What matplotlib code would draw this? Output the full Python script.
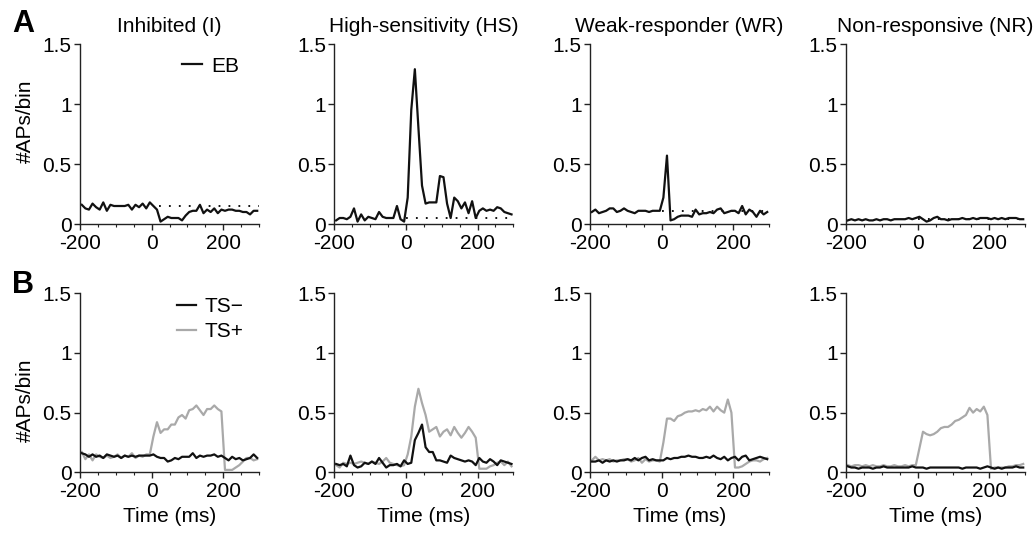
import numpy as np
import matplotlib
matplotlib.use("Agg")
import matplotlib.pyplot as plt
from matplotlib.ticker import MultipleLocator, FixedLocator

plt.rcParams['font.family'] = ['Liberation Sans', 'DejaVu Sans']

# ---------------- data ----------------
time_ms = np.arange(-195, 300, 10)

titles = ["Inhibited (I)", "High-sensitivity (HS)", "Weak-responder (WR)", "Non-responsive (NR)"]

# Row A: EB responses
eb_I = [0.16, 0.13, 0.12, 0.17, 0.14, 0.12, 0.18, 0.11, 0.16, 0.15,
        0.15, 0.15, 0.15, 0.16, 0.12, 0.16, 0.14, 0.17, 0.13, 0.18,
        0.15, 0.12, 0.02, 0.04, 0.06, 0.05, 0.05, 0.05, 0.03, 0.07,
        0.10, 0.11, 0.11, 0.16, 0.09, 0.12, 0.10, 0.13, 0.09, 0.12,
        0.11, 0.12, 0.12, 0.11, 0.11, 0.10, 0.10, 0.08, 0.11, 0.11]
eb_HS = [0.03, 0.05, 0.05, 0.04, 0.06, 0.13, 0.02, 0.08, 0.03, 0.06,
         0.05, 0.04, 0.10, 0.06, 0.05, 0.05, 0.05, 0.15, 0.04, 0.02,
         0.22, 0.95, 1.29, 0.80, 0.32, 0.17, 0.18, 0.18, 0.18, 0.40,
         0.39, 0.17, 0.05, 0.22, 0.19, 0.13, 0.18, 0.09, 0.19, 0.05,
         0.11, 0.13, 0.11, 0.12, 0.11, 0.14, 0.13, 0.10, 0.09, 0.08]
eb_WR = [0.10, 0.12, 0.09, 0.10, 0.11, 0.13, 0.13, 0.10, 0.11, 0.13,
         0.11, 0.10, 0.09, 0.11, 0.11, 0.11, 0.10, 0.11, 0.11, 0.11,
         0.22, 0.57, 0.03, 0.04, 0.06, 0.07, 0.07, 0.07, 0.06, 0.12,
         0.08, 0.09, 0.09, 0.10, 0.09, 0.12, 0.13, 0.09, 0.10, 0.11,
         0.11, 0.09, 0.15, 0.08, 0.12, 0.10, 0.06, 0.11, 0.08, 0.10]
eb_NR = [0.03, 0.04, 0.03, 0.04, 0.03, 0.04, 0.03, 0.03, 0.04, 0.03,
         0.04, 0.04, 0.03, 0.04, 0.04, 0.04, 0.04, 0.05, 0.04, 0.05,
         0.06, 0.04, 0.02, 0.03, 0.05, 0.06, 0.04, 0.04, 0.03, 0.04,
         0.04, 0.04, 0.05, 0.04, 0.04, 0.05, 0.04, 0.05, 0.05, 0.05,
         0.04, 0.05, 0.04, 0.05, 0.04, 0.05, 0.05, 0.05, 0.04, 0.04]
eb_baseline = [0.15, 0.05, 0.11, 0.04]
baseline_start = [20, 0, 0, 0]

# Row B: tone stimulus, TS- (black) and TS+ (grey)
tsm_I = [0.16, 0.15, 0.13, 0.15, 0.13, 0.14, 0.12, 0.15, 0.14, 0.13,
         0.14, 0.12, 0.14, 0.13, 0.14, 0.13, 0.14, 0.14, 0.14, 0.14,
         0.15, 0.13, 0.12, 0.12, 0.09, 0.10, 0.12, 0.11, 0.13, 0.13,
         0.13, 0.16, 0.12, 0.14, 0.13, 0.14, 0.14, 0.15, 0.13, 0.14,
         0.12, 0.10, 0.13, 0.11, 0.12, 0.10, 0.11, 0.12, 0.15, 0.12]
tsp_I = [0.17, 0.11, 0.15, 0.10, 0.15, 0.13, 0.12, 0.14, 0.12, 0.13,
         0.15, 0.12, 0.14, 0.13, 0.16, 0.12, 0.14, 0.13, 0.15, 0.15,
         0.30, 0.42, 0.33, 0.36, 0.36, 0.40, 0.40, 0.46, 0.48, 0.45,
         0.52, 0.53, 0.56, 0.52, 0.48, 0.53, 0.53, 0.56, 0.53, 0.51,
         0.02, 0.02, 0.02, 0.04, 0.06, 0.09, 0.12, 0.12, 0.10, 0.11]
tsm_HS = [0.07, 0.06, 0.07, 0.05, 0.14, 0.06, 0.04, 0.05, 0.08, 0.07,
          0.09, 0.07, 0.12, 0.08, 0.04, 0.06, 0.06, 0.07, 0.05, 0.10,
          0.07, 0.08, 0.27, 0.33, 0.40, 0.21, 0.17, 0.17, 0.10, 0.10,
          0.09, 0.08, 0.14, 0.12, 0.11, 0.10, 0.09, 0.10, 0.09, 0.06,
          0.12, 0.09, 0.08, 0.11, 0.09, 0.06, 0.10, 0.09, 0.08, 0.07]
tsp_HS = [0.06, 0.04, 0.08, 0.07, 0.08, 0.07, 0.08, 0.09, 0.08, 0.07,
          0.09, 0.08, 0.07, 0.09, 0.12, 0.08, 0.07, 0.06, 0.05, 0.06,
          0.15, 0.30, 0.55, 0.70, 0.58, 0.48, 0.34, 0.36, 0.38, 0.30,
          0.34, 0.36, 0.31, 0.38, 0.33, 0.29, 0.33, 0.38, 0.34, 0.29,
          0.03, 0.03, 0.03, 0.05, 0.06, 0.08, 0.09, 0.06, 0.09, 0.05]
tsm_WR = [0.09, 0.09, 0.10, 0.08, 0.10, 0.09, 0.10, 0.09, 0.10, 0.10,
          0.11, 0.10, 0.12, 0.10, 0.12, 0.13, 0.10, 0.11, 0.10, 0.10,
          0.10, 0.12, 0.11, 0.12, 0.12, 0.13, 0.13, 0.14, 0.13, 0.13,
          0.12, 0.12, 0.13, 0.12, 0.14, 0.12, 0.11, 0.13, 0.10, 0.12,
          0.13, 0.10, 0.13, 0.14, 0.10, 0.11, 0.12, 0.13, 0.12, 0.11]
tsp_WR = [0.10, 0.13, 0.10, 0.11, 0.10, 0.11, 0.09, 0.10, 0.10, 0.11,
          0.11, 0.09, 0.10, 0.12, 0.08, 0.11, 0.09, 0.10, 0.10, 0.09,
          0.25, 0.45, 0.45, 0.43, 0.47, 0.48, 0.50, 0.51, 0.51, 0.52,
          0.51, 0.53, 0.52, 0.55, 0.51, 0.55, 0.52, 0.50, 0.61, 0.50,
          0.04, 0.04, 0.05, 0.07, 0.09, 0.10, 0.10, 0.09, 0.11, 0.12]
tsm_NR = [0.05, 0.04, 0.04, 0.03, 0.04, 0.04, 0.04, 0.03, 0.04, 0.04,
          0.05, 0.04, 0.04, 0.04, 0.04, 0.04, 0.04, 0.04, 0.05, 0.04,
          0.04, 0.04, 0.03, 0.04, 0.04, 0.04, 0.04, 0.04, 0.04, 0.04,
          0.04, 0.04, 0.03, 0.04, 0.04, 0.04, 0.04, 0.03, 0.04, 0.05,
          0.04, 0.03, 0.04, 0.03, 0.04, 0.04, 0.04, 0.05, 0.04, 0.04]
tsp_NR = [0.06, 0.05, 0.06, 0.06, 0.05, 0.06, 0.05, 0.06, 0.05, 0.05,
          0.06, 0.05, 0.05, 0.06, 0.05, 0.05, 0.06, 0.05, 0.06, 0.06,
          0.20, 0.34, 0.32, 0.31, 0.32, 0.34, 0.37, 0.38, 0.38, 0.40,
          0.43, 0.44, 0.46, 0.48, 0.54, 0.50, 0.53, 0.51, 0.55, 0.48,
          0.03, 0.04, 0.04, 0.04, 0.04, 0.05, 0.05, 0.06, 0.06, 0.07]

eb_rows = [eb_I, eb_HS, eb_WR, eb_NR]
tsm_rows = [tsm_I, tsm_HS, tsm_WR, tsm_NR]
tsp_rows = [tsp_I, tsp_HS, tsp_WR, tsp_NR]

x_ticks = [-200, 0, 200]
x_ticklabels = ["-200", "0", "200"]
y_ticks = [0, 0.5, 1, 1.5]
y_ticklabels = ["0", "0.5", "1", "1.5"]

# ---------------- layout ----------------
W, H = 1036, 534
fig = plt.figure(figsize=(W / 100, H / 100), dpi=100)

lefts_px = [80, 334.3, 590, 846]
width_px = 179
top_row = (224, 180)     # (bottom px from top, height px)
bot_row = (472.3, 179)

FS = 15
GREY = "#a9a9a9"
AXC = "#222222"


def style_axis(ax, show_xlabel):
    ax.set_xlim(-200, 300)
    ax.set_ylim(0, 1.5)
    for s in ["top", "right"]:
        ax.spines[s].set_visible(False)
    for s in ["left", "bottom"]:
        ax.spines[s].set_color(AXC)
        ax.spines[s].set_linewidth(1.0)
    ax.xaxis.set_major_locator(FixedLocator(x_ticks))
    ax.set_xticklabels(x_ticklabels)
    ax.xaxis.set_minor_locator(MultipleLocator(50))
    ax.yaxis.set_major_locator(FixedLocator(y_ticks))
    ax.set_yticklabels(y_ticklabels)
    ax.tick_params(axis="both", which="major", direction="out", length=4.5,
                   width=1.0, color=AXC, labelsize=FS, pad=1.5)
    ax.tick_params(axis="x", which="major", pad=2.5)
    ax.tick_params(axis="x", which="minor", direction="out", length=2.5,
                   width=0.8, color=AXC)
    ax.tick_params(axis="y", which="minor", length=0)
    if show_xlabel:
        ax.set_xlabel("Time (ms)", fontsize=FS, labelpad=4)


axes_top, axes_bot = [], []
for i in range(4):
    l = lefts_px[i] / W
    w = width_px / W
    ax = fig.add_axes([l, (H - top_row[0]) / H, w, top_row[1] / H])
    style_axis(ax, False)
    ax.set_title(titles[i], fontsize=FS, pad=9)
    ax.plot([baseline_start[i], 300], [eb_baseline[i], eb_baseline[i]],
            color="black", lw=1.3, linestyle=(0, (1, 4.5)))
    ax.plot(time_ms, eb_rows[i], color="#111111", lw=1.6, label="EB")
    axes_top.append(ax)

    axb = fig.add_axes([l, (H - bot_row[0]) / H, w, bot_row[1] / H])
    style_axis(axb, True)
    hp, = axb.plot(time_ms, tsp_rows[i], color=GREY, lw=1.6, label="TS+")
    hm, = axb.plot(time_ms, tsm_rows[i], color="#111111", lw=1.6, label="TS\u2212")
    axes_bot.append((axb, hm, hp))

# y labels
axes_top[0].set_ylabel("#APs/bin", fontsize=FS)
axes_top[0].yaxis.set_label_coords(-0.25, 0.57)
axes_bot[0][0].set_ylabel("#APs/bin", fontsize=FS)
axes_bot[0][0].yaxis.set_label_coords(-0.25, 0.40)

# legends
axes_top[0].legend(loc="upper left", bbox_to_anchor=(0.57, 0.93), frameon=False,
                   fontsize=FS, handlelength=0.95, handletextpad=0.45,
                   borderaxespad=0.0, borderpad=0.0)
axb0, hm0, hp0 = axes_bot[0]
axb0.legend([hm0, hp0], ["TS\u2212", "TS+"], loc="upper left",
            bbox_to_anchor=(0.54, 0.98), frameon=False, fontsize=FS,
            handlelength=0.95, handletextpad=0.4, borderaxespad=0.0,
            borderpad=0.0, labelspacing=0.3)

# panel letters
fig.text(12 / W, 1 - 32 / H, "A", fontsize=22, fontweight="bold", ha="left", va="baseline")
fig.text(12 / W, 1 - 293 / H, "B", fontsize=22, fontweight="bold", ha="left", va="baseline")

fig.savefig("out.png", dpi=100)
